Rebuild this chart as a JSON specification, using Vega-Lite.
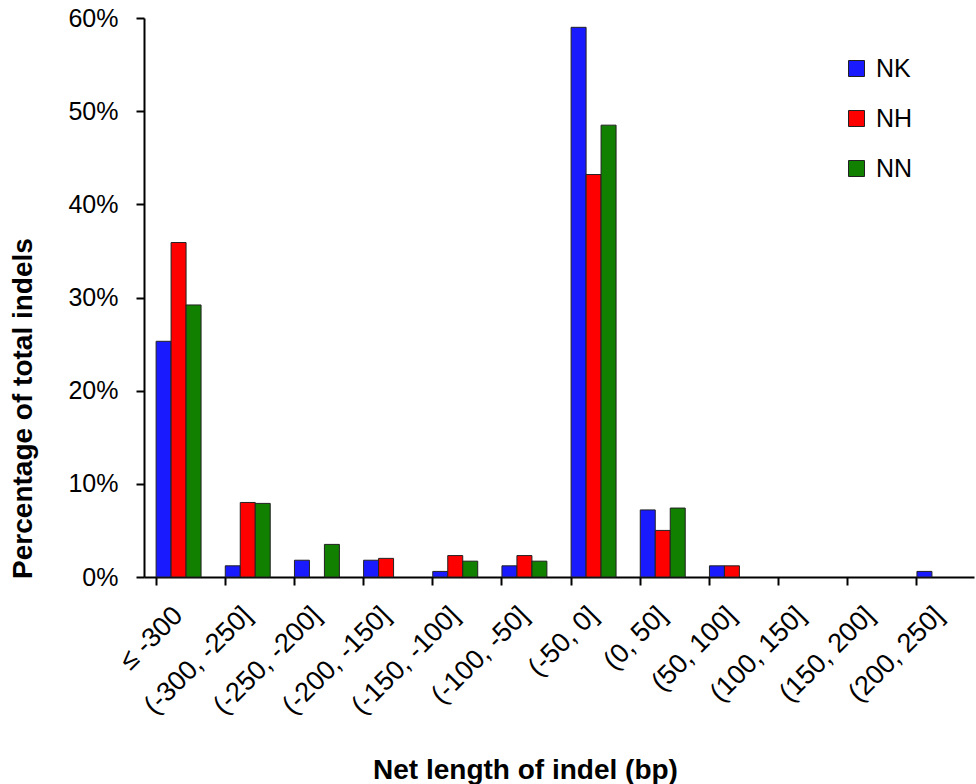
{
  "$schema": "https://vega.github.io/schema/vega-lite/v6.json",
  "width": 830,
  "height": 559,
  "autosize": {"type": "none"},
  "padding": {"left": 144, "top": 18, "right": 2, "bottom": 207},
  "background": "white",
  "config": {
    "view": {"stroke": null},
    "font": "Liberation Sans"
  },
  "data": {
    "values": [
      {"bin": "≤ -300", "group": "NK", "pct": 25.3},
      {"bin": "≤ -300", "group": "NH", "pct": 35.9},
      {"bin": "≤ -300", "group": "NN", "pct": 29.2},
      {"bin": "(-300, -250]", "group": "NK", "pct": 1.2},
      {"bin": "(-300, -250]", "group": "NH", "pct": 8.0},
      {"bin": "(-300, -250]", "group": "NN", "pct": 7.9},
      {"bin": "(-250, -200]", "group": "NK", "pct": 1.8},
      {"bin": "(-250, -200]", "group": "NH", "pct": 0},
      {"bin": "(-250, -200]", "group": "NN", "pct": 3.5},
      {"bin": "(-200, -150]", "group": "NK", "pct": 1.8},
      {"bin": "(-200, -150]", "group": "NH", "pct": 2.0},
      {"bin": "(-200, -150]", "group": "NN", "pct": 0},
      {"bin": "(-150, -100]", "group": "NK", "pct": 0.6},
      {"bin": "(-150, -100]", "group": "NH", "pct": 2.3},
      {"bin": "(-150, -100]", "group": "NN", "pct": 1.7},
      {"bin": "(-100, -50]", "group": "NK", "pct": 1.2},
      {"bin": "(-100, -50]", "group": "NH", "pct": 2.3},
      {"bin": "(-100, -50]", "group": "NN", "pct": 1.7},
      {"bin": "(-50, 0]", "group": "NK", "pct": 59.0},
      {"bin": "(-50, 0]", "group": "NH", "pct": 43.2},
      {"bin": "(-50, 0]", "group": "NN", "pct": 48.5},
      {"bin": "(0, 50]", "group": "NK", "pct": 7.2},
      {"bin": "(0, 50]", "group": "NH", "pct": 5.0},
      {"bin": "(0, 50]", "group": "NN", "pct": 7.4},
      {"bin": "(50, 100]", "group": "NK", "pct": 1.2},
      {"bin": "(50, 100]", "group": "NH", "pct": 1.2},
      {"bin": "(50, 100]", "group": "NN", "pct": 0},
      {"bin": "(100, 150]", "group": "NK", "pct": 0},
      {"bin": "(100, 150]", "group": "NH", "pct": 0},
      {"bin": "(100, 150]", "group": "NN", "pct": 0},
      {"bin": "(150, 200]", "group": "NK", "pct": 0},
      {"bin": "(150, 200]", "group": "NH", "pct": 0},
      {"bin": "(150, 200]", "group": "NN", "pct": 0},
      {"bin": "(200, 250]", "group": "NK", "pct": 0.6},
      {"bin": "(200, 250]", "group": "NH", "pct": 0},
      {"bin": "(200, 250]", "group": "NN", "pct": 0}
    ]
  },
  "mark": {"type": "bar", "stroke": "#222222", "strokeWidth": 1},
  "encoding": {
    "x": {
      "field": "bin",
      "type": "nominal",
      "sort": null,
      "scale": {"paddingInner": 0.35, "paddingOuter": 0.175},
      "axis": {
        "title": "Net length of indel (bp)",
        "titleFont": "Liberation Sans",
        "titleFontSize": 28,
        "titleFontWeight": "bold",
        "titleColor": "black",
        "titleX": 381,
        "titleY": 201,
        "titleBaseline": "alphabetic",
        "labelAngle": -45,
        "labelAlign": "right",
        "labelBaseline": "middle",
        "labelFontSize": 27,
        "labelColor": "black",
        "labelPadding": 26,
        "bandPosition": 0,
        "tickSize": 8,
        "tickColor": "black",
        "tickWidth": 2,
        "domainColor": "black",
        "domainWidth": 2,
        "grid": false
      }
    },
    "xOffset": {"field": "group", "type": "nominal", "sort": ["NK", "NH", "NN"], "scale": {"paddingInner": 0, "paddingOuter": 0}},
    "y": {
      "field": "pct",
      "type": "quantitative",
      "scale": {"domain": [0, 60], "nice": false},
      "axis": {
        "title": "Percentage of total indels",
        "titleFont": "Liberation Sans",
        "titleFontSize": 28,
        "titleFontWeight": "bold",
        "titleColor": "black",
        "titleY": 390,
        "titlePadding": 30,
        "values": [0, 10, 20, 30, 40, 50, 60],
        "labelExpr": "datum.value + '%'",
        "labelFontSize": 25,
        "labelColor": "black",
        "labelPadding": 18,
        "tickSize": 8,
        "tickColor": "black",
        "tickWidth": 2,
        "domainColor": "black",
        "domainWidth": 2,
        "grid": false
      }
    },
    "strokeOpacity": {
      "condition": {"test": "datum.pct == 0", "value": 0},
      "value": 1
    },
    "color": {
      "field": "group",
      "type": "nominal",
      "sort": ["NK", "NH", "NN"],
      "scale": {"domain": ["NK", "NH", "NN"], "range": ["#1a1aff", "#ff0000", "#117f00"]},
      "legend": {
        "title": null,
        "orient": "none",
        "legendX": 700,
        "legendY": 38,
        "padding": 0,
        "symbolType": "square",
        "symbolSize": 256,
        "symbolStrokeColor": "#222222",
        "symbolStrokeWidth": 1,
        "labelFontSize": 25,
        "labelColor": "black",
        "labelOffset": 7,
        "rowPadding": 24
      }
    }
  }
}
